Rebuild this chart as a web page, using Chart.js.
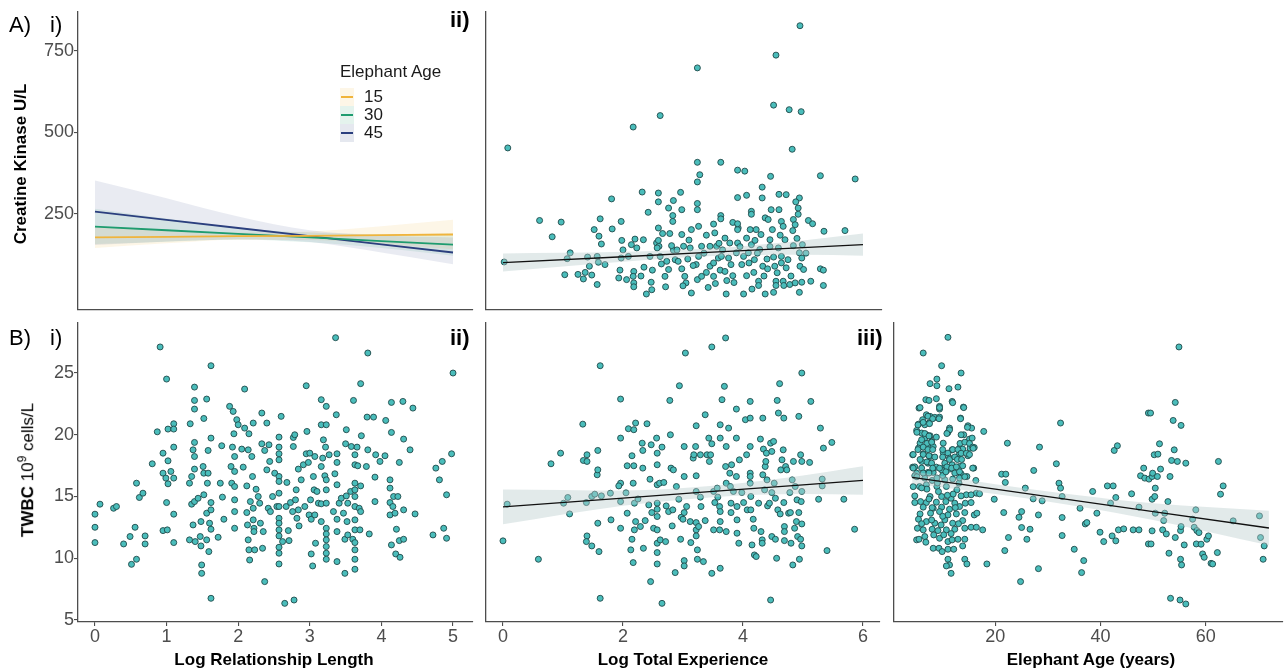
<!DOCTYPE html>
<html>
<head>
<meta charset="utf-8">
<script src="https://cdn.jsdelivr.net/npm/chart.js@4.4.1/dist/chart.umd.min.js"></script>
<style>
body { margin: 0; background: #fff; }
#fig { position: relative; width: 1287px; height: 672px; overflow: hidden; font-family: "Liberation Sans", Arial, sans-serif; }
canvas { position: absolute; }
.lab { position: absolute; white-space: nowrap; color: #000; line-height: 24px; }
.tag { font-size: 22px; }
.tagb { font-size: 22px; font-weight: bold; }
.xt { font-size: 17px; font-weight: bold; transform: translateX(-50%); }
.yt { font-size: 17px; transform: translate(-50%, -50%) rotate(-90deg); }
.leg { position: absolute; font-size: 17px; line-height: 20px; color: #1a1a1a; }
.key { position: absolute; width: 14px; height: 18px; }
.key i { position: absolute; left: 1px; right: 1px; top: 8px; height: 2px; }
</style>
</head>
<body>
<div id="fig">
  <canvas id="ckRel"></canvas>
  <canvas id="ckExp"></canvas>
  <canvas id="wbcRel"></canvas>
  <canvas id="wbcExp"></canvas>
  <canvas id="wbcAge"></canvas>

  <div class="lab tag" style="left:9px;top:13px;">A)</div>
  <div class="lab tag" style="left:50px;top:13px;">i)</div>
  <div class="lab tagb" style="left:450px;top:8px;">ii)</div>
  <div class="lab tag" style="left:9px;top:326px;">B)</div>
  <div class="lab tag" style="left:50px;top:326px;">i)</div>
  <div class="lab tagb" style="left:450px;top:326px;">ii)</div>
  <div class="lab tagb" style="left:857px;top:326px;">iii)</div>

  <div class="lab yt" style="left:21px;top:164px;"><b>Creatine Kinase U/L</b></div>
  <div class="lab yt" style="left:25px;top:470px;"><b>TWBC</b> 10<sup style="font-size:12px;">9</sup> cells/L</div>
  <div class="lab xt" style="left:274px;top:648px;">Log Relationship Length</div>
  <div class="lab xt" style="left:683px;top:648px;">Log Total Experience</div>
  <div class="lab xt" style="left:1091px;top:648px;">Elephant Age (years)</div>

  <div class="leg" style="left:340px;top:62px;">Elephant Age</div>
  <div class="key" style="left:340px;top:88px;background:rgba(240,180,60,0.12);"><i style="background:#f0b43c;"></i></div>
  <div class="key" style="left:340px;top:106px;background:rgba(30,156,111,0.12);"><i style="background:#1e9c6f;"></i></div>
  <div class="key" style="left:340px;top:124px;background:rgba(43,63,126,0.12);"><i style="background:#2b3f7e;"></i></div>
  <div class="leg" style="left:364px;top:87px;">15</div>
  <div class="leg" style="left:364px;top:105px;">30</div>
  <div class="leg" style="left:364px;top:123px;">45</div>
</div>
<script>
// tick labels
const relLenTicks = [0, 1, 2, 3, 4, 5];
const expTicks = [0, 2, 4, 6];
const ageTicks = [20, 40, 60];
const ckTicks = [250, 500, 750];
const wbcTicks = [5, 10, 15, 20, 25];

// A i) predicted creatine kinase by relationship length for three ages
const ageLevels = ["15", "30", "45"];
const predRelLen = [0, 1, 2, 3, 4, 5];
const ckAge15 = [178, 180, 182, 183, 185, 187];
const ckAge15Lo = [146, 160, 171, 170, 158, 142];
const ckAge15Hi = [210, 200, 193, 196, 212, 232];
const ckAge30 = [211, 200, 189, 178, 167, 156];
const ckAge30Lo = [158, 165, 172, 163, 146, 122];
const ckAge30Hi = [266, 236, 207, 193, 188, 190];
const ckAge45 = [257, 232, 207, 182, 157, 132];
const ckAge45Lo = [155, 166, 172, 164, 132, 96];
const ckAge45Hi = [352, 298, 242, 200, 184, 178];

// A ii) creatine kinase vs log total experience
const ckExpPts = [
  [4.95,826],[4.55,736],[3.24,697],[4.51,583],[4.77,569],[4.97,563],[2.62,551],[2.17,516],[4.82,448],[0.08,452],
  [3.24,408],[3.63,408],[3.28,370],[3.24,348],[3.91,384],[4.03,381],[4.46,365],[5.29,367],[5.87,357],[4.32,332],
  [2.32,317],[2.59,314],[2.96,316],[1.81,296],[2.59,287],[2.84,291],[2.76,268],[2.98,263],[3.24,282],[3.24,263],
  [3.91,300],[4.06,307],[4.32,299],[4.60,310],[4.72,309],[4.94,299],[4.88,287],[4.92,268],[4.14,258],[4.47,263],
  [4.60,263],[0.61,230],[0.97,225],[0.82,180],[1.62,235],[1.97,227],[1.52,202],[1.82,204],[2.83,245],[2.83,227],
  [2.59,207],[2.42,255],[3.63,245],[3.63,235],[3.83,224],[3.92,207],[4.14,249],[4.37,238],[4.42,233],[4.64,227],
  [4.84,233],[4.92,249],[5.09,230],[5.16,220],[5.35,197],[5.70,199],[4.83,199],[4.87,217],[4.67,212],[4.49,202],
  [4.22,202],[4.30,187],[3.91,202],[3.91,220],[4.12,202],[3.51,219],[3.39,185],[3.53,192],[3.70,176],[3.26,212],
  [3.14,202],[2.98,187],[2.78,190],[2.20,173],[1.98,169],[1.60,182],[1.64,158],
  [1.12,131],[1.07,113],[1.03,64],[1.34,51],[1.41,118],[1.37,71],[1.48,63],[1.44,90],[1.57,34],[1.59,102],
  [1.57,120],[1.97,115],[1.95,78],[1.93,54],[2.06,49],[2.09,120],[2.14,156],[2.18,74],[2.17,59],[2.18,39],
  [2.18,27],[2.35,87],[2.39,5],[2.47,41],[2.48,18],[2.49,78],[2.56,161],[2.60,151],[2.62,120],[2.64,97],
  [2.70,59],[2.71,27],[2.76,80],[2.84,139],[2.87,110],[2.98,82],[3.03,59],[3.05,39],[3.14,8],[3.22,95],
  [3.24,49],[3.26,120],[3.31,59],[3.39,71],[3.45,90],[3.51,59],[3.54,37],[3.59,115],[3.62,78],[3.70,74],
  [3.73,46],[3.72,5],[3.83,61],[3.89,131],[3.98,95],[4.01,5],[4.06,61],[4.18,71],[4.19,110],[4.26,44],
  [4.26,31],[4.33,90],[4.37,5],[4.40,112],[4.41,82],[4.51,10],[4.53,90],[4.55,44],[4.55,31],[4.64,100],
  [4.67,44],[4.68,31],[4.72,85],[4.78,34],[4.87,39],[4.94,10],[4.95,90],[4.98,41],[4.98,115],[5.01,80],
  [5.13,44],[5.29,82],[5.34,78],[5.34,31],[0.02,103],
  [2.23,146],[2.34,171],[2.59,169],[2.57,146],[2.81,153],[3.01,151],[3.12,146],[3.31,151],[3.45,151],[3.56,151],
  [3.78,161],[3.91,161],[4.06,176],[4.14,156],[4.20,169],[4.28,141],[4.45,171],[4.59,146],[4.70,171],[4.84,153],
  [4.99,156],[4.94,131],[4.51,118],[4.64,120],[2.73,105],[2.92,105],[3.08,112],[3.17,92],[3.51,100],[3.64,120],
  [3.76,115],[4.01,120],[4.09,131],[1.25,65],[1.70,95],[2.00,140],[2.30,60],[2.45,120],[2.66,190],[2.90,140],
  [3.00,30],[3.10,170],[3.35,130],[3.42,25],[3.60,160],[3.66,140],[3.80,95],[3.85,40],[3.95,150],[4.10,100],
  [4.15,20],[4.24,130],[4.35,60],[4.45,150],[4.57,70],[4.62,185],[4.75,110],[4.80,60],[4.90,175],[5.05,130]
];
const ckExpFitX = [0, 2, 3.5, 5, 6];
const ckExpFit = [101, 119, 133, 147, 156];
const ckExpLo = [74, 104, 121, 125, 122];
const ckExpHi = [129, 134, 145, 169, 190];

// B i) TWBC vs log relationship length
const wbcRelPts = [
  [0,13.57],[0,12.51],[0,11.27],[0.07,14.38],[0.26,14.05],[0.30,14.19],[0.40,11.16],[0.49,11.76],[0.51,9.51],[0.56,12.51],
  [0.58,16.08],[0.58,9.92],[0.62,14.92],[0.67,15.27],[0.70,11.81],[0.70,11.16],[0.80,17.65],[0.87,20.24],[0.91,27.11],[0.95,18.51],
  [0.95,16.89],[0.95,12.24],[0.99,16.49],[1.00,24.51],[1.00,14.51],[1.01,12.30],[1.02,17.89],[1.02,20.46],[1.02,16.03],[1.06,17.03],
  [1.10,20.89],[1.10,20.46],[1.10,19.00],[1.10,16.49],[1.10,13.57],[1.10,11.27],[1.33,20.89],[1.32,16.08],[1.32,11.49],[1.35,16.62],
  [1.35,14.38],[1.37,18.78],[1.39,23.86],[1.39,22.78],[1.39,22.08],[1.39,19.38],[1.39,18.24],[1.39,17.22],[1.39,14.59],[1.37,12.70],
  [1.40,11.35],[1.44,14.86],[1.47,11.76],[1.48,12.97],[1.49,9.46],[1.49,8.78],[1.48,11.00],[1.51,17.43],[1.52,21.32],[1.52,16.89],
  [1.52,15.14],[1.56,22.89],[1.56,11.49],[1.56,13.65],[1.57,16.08],[1.58,18.73],[1.58,16.89],[1.59,10.54],[1.60,12.84],[1.62,25.59],
  [1.62,19.73],[1.62,14.51],[1.62,13.92],[1.62,12.35],[1.62,6.76],[1.72,11.70],[1.75,16.08],[1.77,19.11],[1.78,14.95],[1.80,13.16],
  [1.88,22.30],[1.90,17.43],[1.91,16.08],[1.92,19.00],[1.93,21.89],[1.94,20.08],[1.95,18.24],[1.95,17.03],[1.95,15.81],[1.95,14.73],
  [1.95,13.78],[1.95,12.43],[1.98,21.22],[2.00,20.81],[2.05,18.84],[2.07,17.38],[2.09,23.70],[2.09,20.54],[2.12,15.86],[2.12,13.70],
  [2.13,12.70],[2.14,18.78],[2.14,11.49],[2.15,20.08],[2.15,10.68],[2.16,9.86],[2.17,14.59],[2.19,18.24],[2.20,16.62],[2.21,20.95],
  [2.21,14.05],[2.21,13.11],[2.22,12.43],[2.22,12.16],[2.23,10.68],[2.25,15.59],[2.28,15.00],[2.30,14.46],[2.31,12.84],[2.33,21.76],
  [2.33,19.27],[2.34,10.81],[2.35,12.16],[2.37,18.73],[2.37,8.11],[2.40,20.95],[2.40,17.16],[2.42,14.05],[2.43,19.19],[2.44,17.84],
  [2.45,13.78],[2.48,15.00],[2.51,16.89],[2.54,14.19],[2.57,19.81],[2.57,19.00],[2.57,18.46],[2.57,17.97],[2.57,16.62],[2.57,16.22],
  [2.57,15.27],[2.57,14.19],[2.57,13.24],[2.57,12.84],[2.57,12.30],[2.57,11.81],[2.57,10.89],[2.57,10.41],[2.57,9.54],[2.60,21.49],
  [2.62,11.35],[2.65,6.35],[2.67,14.19],[2.68,16.14],[2.70,12.24],[2.71,11.43],[2.73,14.51],[2.76,13.78],[2.77,19.78],[2.77,19.05],
  [2.78,6.62],[2.79,20.00],[2.80,14.73],[2.81,15.54],[2.82,13.24],[2.84,17.22],[2.84,13.92],[2.85,12.62],[2.88,16.35],[2.91,17.57],
  [2.93,14.19],[2.95,23.97],[2.95,18.46],[2.96,20.27],[2.98,17.76],[2.99,13.51],[3.00,18.51],[3.01,14.73],[3.02,13.16],[3.02,10.35],
  [3.04,9.38],[3.05,16.62],[3.06,15.54],[3.07,18.24],[3.07,13.51],[3.08,11.22],[3.10,15.41],[3.12,14.46],[3.16,22.84],[3.16,17.43],
  [3.16,14.41],[3.16,12.97],[3.16,20.81],[3.18,18.11],[3.19,19.59],[3.21,16.68],[3.22,19.00],[3.23,22.30],[3.23,20.81],[3.23,16.35],
  [3.23,15.54],[3.23,14.46],[3.23,12.43],[3.23,11.97],[3.23,11.49],[3.23,10.95],[3.23,10.41],[3.23,9.92],[3.27,18.38],[3.33,13.78],
  [3.35,16.84],[3.36,27.86],[3.37,21.62],[3.38,18.46],[3.38,15.95],[3.38,13.16],[3.38,12.16],[3.38,9.73],[3.38,17.76],[3.41,14.46],
  [3.44,14.86],[3.47,13.65],[3.49,11.54],[3.49,8.78],[3.50,19.27],[3.51,15.05],[3.51,20.41],[3.52,12.97],[3.53,11.89],[3.53,14.46],
  [3.57,15.41],[3.58,19.05],[3.60,11.54],[3.61,22.78],[3.63,18.38],[3.63,17.57],[3.63,16.08],[3.63,15.54],[3.63,15.00],[3.63,14.19],
  [3.63,13.11],[3.63,12.30],[3.63,11.27],[3.63,10.68],[3.63,9.92],[3.63,9.11],[3.66,19.00],[3.67,17.49],[3.69,14.05],[3.70,12.30],
  [3.71,13.78],[3.71,15.86],[3.71,24.14],[3.72,19.92],[3.79,17.43],[3.80,21.43],[3.81,26.62],[3.81,18.78],[3.83,11.97],[3.89,21.43],
  [3.91,16.57],[3.91,14.59],[3.92,18.38],[3.98,17.84],[4.05,18.30],[4.06,21.16],[4.12,16.35],[4.12,15.68],[4.12,14.51],[4.12,13.51],
  [4.14,22.62],[4.14,20.19],[4.14,11.08],[4.16,14.19],[4.17,15.00],[4.19,13.65],[4.20,10.35],[4.21,12.35],[4.23,15.00],[4.25,17.76],
  [4.25,11.43],[4.26,10.08],[4.30,22.70],[4.31,19.65],[4.31,13.92],[4.31,11.54],[4.40,18.78],[4.44,22.16],[4.47,13.59],[4.72,11.89],
  [4.76,17.30],[4.81,16.35],[4.85,17.84],[4.87,12.43],[4.91,11.62],[4.91,15.14],[4.98,18.46],[5.00,25.00]
];

// B ii) TWBC vs log total experience
const wbcExpPts = [
  [0,11.41],[0.07,14.38],[0.59,9.92],[0.80,17.65],[0.96,18.51],[1.01,14.46],[1.08,14.92],[1.11,13.59],[1.33,20.86],[1.34,17.92],
  [1.40,17.84],[1.40,18.38],[1.39,14.51],[1.40,11.81],[1.39,11.35],[1.48,11.00],[1.48,15.00],[1.53,15.19],[1.57,16.76],[1.58,17.16],
  [1.58,18.73],[1.58,12.84],[1.60,10.54],[1.62,25.59],[1.62,6.76],[1.79,15.27],[1.80,13.11],[1.96,22.89],[1.96,19.73],[1.96,16.08],
  [1.93,15.86],[1.96,14.59],[1.96,12.43],[2.07,17.49],[2.07,13.65],[2.09,20.49],[2.15,18.30],[2.17,16.08],[2.18,20.41],[2.18,17.49],
  [2.19,14.46],[2.19,12.30],[2.21,20.95],[2.17,9.65],[2.13,10.68],[2.15,11.54],[2.21,12.97],[2.29,12.57],[2.32,19.32],[2.33,18.73],
  [2.33,17.30],[2.34,10.81],[2.37,13.05],[2.40,20.89],[2.43,14.32],[2.46,8.11],[2.47,19.19],[2.48,13.70],[2.51,12.43],[2.56,19.73],
  [2.57,18.51],[2.57,17.57],[2.57,15.95],[2.57,14.46],[2.57,13.97],[2.57,13.38],[2.57,12.30],[2.57,11.22],[2.57,10.46],[2.57,9.54],
  [2.61,16.08],[2.62,11.49],[2.65,6.35],[2.65,19.00],[2.68,16.14],[2.71,11.35],[2.72,14.24],[2.76,13.78],[2.78,22.78],[2.79,20.00],
  [2.80,17.30],[2.82,12.62],[2.83,13.92],[2.84,17.16],[2.87,8.84],[2.89,15.81],[2.93,14.78],[2.94,23.97],[2.96,11.54],[2.97,13.32],
  [3.00,13.16],[3.02,19.05],[3.02,16.62],[3.02,13.70],[3.02,9.81],[3.02,9.38],[3.04,26.62],[3.06,14.19],[3.12,12.97],[3.13,11.27],
  [3.17,18.11],[3.18,18.38],[3.21,19.05],[3.22,20.73],[3.22,16.68],[3.22,15.41],[3.22,12.89],[3.22,12.30],[3.22,11.81],[3.24,10.68],
  [3.24,9.92],[3.26,12.57],[3.29,18.38],[3.29,14.95],[3.30,14.19],[3.34,9.73],[3.37,13.05],[3.37,21.62],[3.40,18.38],[3.43,19.73],
  [3.44,17.84],[3.46,18.38],[3.48,27.11],[3.48,19.27],[3.48,8.78],[3.51,15.41],[3.51,12.30],[3.53,14.51],[3.57,15.68],[3.58,14.95],
  [3.61,14.19],[3.61,12.30],[3.62,19.73],[3.62,20.81],[3.62,13.78],[3.62,12.97],[3.62,9.19],[3.65,22.84],[3.69,23.92],[3.71,27.84],
  [3.71,17.43],[3.72,19.05],[3.72,16.08],[3.72,12.16],[3.76,20.54],[3.78,16.89],[3.79,15.81],[3.80,14.46],[3.80,13.70],[3.81,17.57],
  [3.84,15.41],[3.89,22.08],[3.89,19.73],[3.89,16.62],[3.90,14.19],[3.90,13.11],[3.90,12.03],[3.93,11.22],[3.94,17.97],[3.98,15.32],
  [4.01,14.51],[4.04,21.22],[4.06,18.38],[4.07,13.92],[4.12,21.35],[4.12,22.70],[4.12,19.05],[4.12,16.89],[4.12,16.62],[4.12,16.08],
  [4.13,15.00],[4.13,13.92],[4.15,11.08],[4.17,13.16],[4.18,12.43],[4.19,10.27],[4.22,10.14],[4.26,14.46],[4.29,19.65],[4.30,12.16],
  [4.32,11.49],[4.32,11.22],[4.33,21.35],[4.33,16.76],[4.34,18.84],[4.36,15.54],[4.37,17.43],[4.38,17.84],[4.39,18.51],[4.40,16.35],
  [4.41,14.24],[4.44,14.46],[4.46,19.32],[4.46,6.62],[4.48,18.65],[4.48,15.32],[4.48,11.76],[4.51,19.46],[4.52,16.08],[4.54,14.86],
  [4.54,11.54],[4.56,10.00],[4.57,22.78],[4.58,13.92],[4.59,21.76],[4.61,24.14],[4.62,13.59],[4.63,17.16],[4.65,17.97],[4.67,18.78],
  [4.68,21.35],[4.68,14.51],[4.69,12.57],[4.69,12.16],[4.69,11.43],[4.71,17.43],[4.73,17.16],[4.76,13.65],[4.78,15.32],[4.79,13.70],
  [4.80,11.22],[4.82,16.35],[4.83,9.46],[4.84,17.84],[4.86,12.43],[4.87,15.81],[4.89,12.97],[4.90,14.73],[4.91,11.76],[4.93,21.49],
  [4.93,13.70],[4.94,9.92],[4.96,18.38],[4.96,11.54],[4.97,14.59],[4.98,25.00],[4.98,17.84],[4.98,15.41],[4.98,12.78],[4.98,11.00],
  [5.11,17.76],[5.13,22.70],[5.26,14.78],[5.29,20.54],[5.32,16.41],[5.32,15.86],[5.34,18.92],[5.40,10.62],[5.48,19.38],[5.68,14.78],
  [5.86,12.35],[1.64,15.05],[2.05,15.30],[2.25,14.80],[2.45,16.40]
];
const wbcExpFitX = [0, 2, 3.5, 5, 6];
const wbcExpFit = [14.16, 14.87, 15.41, 15.95, 16.30];
const wbcExpLo = [12.75, 14.25, 14.95, 15.20, 15.15];
const wbcExpHi = [15.57, 15.49, 15.87, 16.70, 17.45];

// B iii) TWBC vs elephant age
const wbcAgePts = [
  [11.0,27.89],[6.3,26.62],[9.8,25.59],[13.5,25.00],[8.9,24.51],[7.6,24.14],[8.9,23.97],[11.2,23.73],[12.9,23.86],[11.8,22.70],
  [6.8,22.84],[7.4,22.78],[8.8,22.92],[5.5,22.16],[9.4,22.30],[9.4,22.08],[13.95,22.24],[6.9,21.62],[7.6,21.49],[8.5,21.41],
  [9.4,21.43],[6.2,21.22],[7.4,20.95],[5.4,20.86],[6.6,20.81],[13.4,21.35],[14.8,20.73],[15.5,20.54],[11.3,20.54],[11.0,20.19],
  [5.05,20.35],[6.0,20.14],[6.9,20.00],[6.6,19.73],[7.6,19.92],[8.8,19.81],[7.9,19.46],[5.7,19.32],[14.0,20.00],[15.1,19.65],
  [15.6,19.73],[17.8,20.27],[10.1,19.32],[7.2,19.11],[8.2,19.05],[13.2,18.92],[13.8,18.84],[15.2,18.92],[16.0,18.97],[11.8,18.78],
  [10.1,18.57],[11.0,18.51],[5.4,18.92],[6.3,18.46],[7.6,18.24],[4.3,18.38],[13.2,18.46],[14.8,18.30],[11.3,18.11],[6.0,17.84],
  [7.2,17.70],[8.8,17.38],[10.4,17.43],[11.8,17.57],[13.2,17.43],[13.8,17.49],[15.9,17.30],[4.3,17.38],[5.05,16.89],[7.2,16.95],
  [8.2,16.95],[9.8,17.16],[11.3,17.22],[13.5,16.84],[14.6,16.62],[4.7,16.68],[6.6,16.49],[8.0,16.30],[10.4,16.35],[11.9,16.41],
  [13.1,16.08],[16.3,16.30],[5.6,15.81],[6.9,15.95],[8.9,15.81],[10.7,15.81],[12.7,15.54],[14.5,15.14],[16.4,15.27],[15.4,15.14],
  [4.7,15.05],[7.6,15.00],[9.8,15.00],[11.6,14.86],[13.5,15.05],[4.7,14.51],[5.8,14.59],[6.9,14.51],[8.8,14.54],[10.6,14.59],
  [12.3,14.46],[14.3,14.46],[15.4,14.51],[6.3,14.14],[8.2,14.05],[9.8,14.14],[11.3,13.97],[13.2,14.19],[5.7,13.59],[7.7,13.65],
  [9.4,13.78],[11.0,13.51],[12.6,13.59],[14.2,13.70],[16.0,13.51],[16.5,13.65],[5.4,13.16],[6.9,12.97],[8.5,12.84],[10.4,13.11],
  [11.9,12.84],[13.8,13.05],[5.2,12.43],[6.3,12.30],[8.0,12.35],[9.1,12.24],[10.7,12.30],[12.3,12.35],[14.2,12.43],[15.4,12.51],
  [16.4,12.51],[17.6,12.30],[5.05,11.49],[5.5,11.54],[6.6,11.76],[8.3,11.89],[9.4,11.62],[11.0,11.35],[11.8,11.49],[12.9,11.54],
  [14.2,11.54],[8.2,10.81],[9.3,10.81],[9.9,10.54],[11.0,10.73],[12.1,10.73],[13.8,11.00],[11.0,9.92],[11.3,9.46],[10.7,9.38],
  [11.6,8.78],[14.2,9.92],[14.6,9.54],[17.0,15.22],[7.0,15.60],[9.0,16.10],[10.0,13.40],[12.0,15.20],[6.0,12.80],[8.0,14.10],
  [5.7,22.2],[9.4,22.2],[11.9,22.6],[14.0,22.2],[6.3,21.0],[7.2,21.5],[8.1,21.3],[9.3,21.3],[13.4,21.3],[5.3,20.8],
  [7.5,20.9],[5.1,20.2],[6.6,20.1],[7.4,19.9],[11.3,20.4],[10.8,20.1],[14.7,20.6],[6.0,19.6],[7.0,19.3],[7.9,19.4],
  [6.3,19.0],[7.2,18.8],[8.1,18.8],[13.5,20.0],[13.3,19.3],[14.2,19.4],[15.1,19.3],[15.7,19.0],[10.0,18.8],[11.9,18.8],
  [12.9,18.8],[13.5,18.5],[14.5,18.5],[15.8,18.9],[5.3,18.8],[4.4,18.4],[6.3,18.4],[7.4,18.3],[8.5,18.2],[5.7,18.0],
  [7.0,17.8],[7.9,17.7],[10.0,18.2],[10.4,17.7],[11.3,18.0],[12.3,18.2],[12.8,18.0],[13.6,18.0],[15.1,18.4],[4.7,17.4],
  [6.0,17.3],[8.1,17.3],[9.4,17.3],[10.8,17.4],[11.7,17.3],[12.6,17.4],[10.0,16.7],[10.6,17.0],[12.3,16.9],[13.2,17.0],
  [8.9,16.5],[13.2,16.5],[14.2,16.6],[15.7,17.3],[4.4,17.3],[5.1,16.6],[6.3,16.9],[4.4,15.8],[6.0,15.7],[7.4,16.9],
  [9.2,15.4],[10.9,15.1],[12.4,14.1],[7.9,13.1],[9.7,12.7],[11.6,12.0],[13.0,12.8],[6.8,11.3],[10.2,11.9],[7.4,14.8],
  [18.4,9.54],[19.8,14.78],[21.2,16.81],[22.0,16.81],[21.9,16.14],[21.6,13.70],[21.8,10.62],[22.3,19.32],[22.5,11.68],[24.5,13.32],
  [25.0,13.78],[25.0,12.49],[24.8,8.11],[25.7,15.68],[26.0,11.54],[26.6,12.35],[27.2,14.81],[27.3,17.11],[28.2,13.51],[28.2,9.16],
  [28.4,19.00],[28.9,14.65],[31.6,17.65],[32.1,16.08],[32.4,20.95],[32.4,15.68],[32.7,15.00],[32.7,13.30],[32.7,11.84],[35.0,10.73],
  [36.1,14.05],[36.4,8.84],[36.8,9.81],[37.1,12.78],[37.4,12.89],[38.5,15.41],[39.3,13.65],[39.9,12.11],[40.6,11.35],[41.3,15.86],
  [41.9,14.46],[42.2,11.81],[42.4,15.86],[42.6,18.73],[42.9,14.92],[42.9,11.41],[43.2,19.11],[43.4,12.30],[44.4,12.38],[45.9,15.22],
  [46.2,12.30],[47.3,14.14],[47.3,12.30],[47.6,16.68],[48.2,17.30],[48.4,16.49],[49.1,21.76],[49.5,21.76],[49.2,16.41],[49.8,16.62],
  [49.9,16.89],[49.8,14.78],[49.1,11.16],[49.6,11.16],[49.8,12.22],[50.2,18.38],[50.4,15.68],[50.3,15.00],[50.4,13.65],[50.8,16.62],
  [50.9,18.43],[51.2,19.27],[51.4,17.22],[51.8,12.30],[52.0,13.05],[52.2,13.65],[52.5,11.97],[52.8,14.59],[53.0,10.41],[53.2,16.62],
  [53.3,6.76],[53.5,17.92],[53.8,21.16],[54.0,18.78],[54.2,22.62],[54.2,11.68],[54.6,17.84],[54.9,27.11],[55.2,12.24],[55.2,9.92],
  [55.3,20.76],[55.3,12.57],[55.1,6.62],[55.4,9.46],[55.9,11.08],[56.2,17.70],[56.2,6.30],[57.5,13.16],[57.8,12.51],[58.1,13.92],
  [58.3,12.24],[58.7,12.08],[58.2,11.16],[59.1,11.14],[59.4,10.35],[59.7,10.08],[60.2,11.54],[60.5,11.81],[61.0,9.59],[61.3,9.54],
  [62.2,10.46],[62.4,17.84],[62.8,15.19],[63.3,15.86],[65.2,13.03],[70.2,13.43],[70.4,11.68],[70.9,9.92],[71.1,11.00]
];
const wbcAgeFitX = [4.2, 20, 35, 50, 72];
const wbcAgeFit = [16.55, 15.60, 14.69, 13.78, 12.45];
const wbcAgeLo = [16.05, 15.20, 14.25, 13.10, 11.05];
const wbcAgeHi = [17.05, 16.00, 15.15, 14.45, 13.85];

const FONT = '"Liberation Sans", Arial, sans-serif';
const AXIS_GREY = '#4d4d4d';

function axis(min, max, ticks, labelled) {
    return {
        type: 'linear',
        min: min,
        max: max,
        afterBuildTicks: s => { s.ticks = ticks.map(v => ({ value: v })); },
        grid: { display: labelled, drawOnChartArea: false, drawTicks: true, tickLength: 4, color: AXIS_GREY, lineWidth: 1.1 },
        border: { display: true, color: AXIS_GREY, width: 1.3 },
        ticks: { display: labelled, color: AXIS_GREY, font: { family: FONT, size: 18 }, padding: 0, maxRotation: 0, autoSkip: false }
    };
}

function points(pairs) {
    return {
        data: pairs.map(p => ({ x: p[0], y: p[1] })),
        showLine: false,
        pointRadius: 3,
        pointBackgroundColor: '#4abdbb',
        pointBorderColor: '#1f4a49',
        pointBorderWidth: 0.9,
        order: 3
    };
}

function band(xs, lo, hi, color) {
    const none = 'rgba(0,0,0,0)';
    return [
        { data: xs.map((x, i) => ({ x: x, y: hi[i] })), borderColor: none, borderWidth: 1, pointRadius: 0,
          fill: '+1', backgroundColor: color, cubicInterpolationMode: 'monotone', order: 2 },
        { data: xs.map((x, i) => ({ x: x, y: lo[i] })), borderColor: none, borderWidth: 1, pointRadius: 0,
          fill: false, cubicInterpolationMode: 'monotone', order: 2 }
    ];
}

function fitLine(xs, ys, color, width) {
    return { data: xs.map((x, i) => ({ x: x, y: ys[i] })), borderColor: color, borderWidth: width,
             pointRadius: 0, fill: false, order: 1 };
}

// area = [left, top, right, bottom] of the plot frame, pad = [left, top, right, bottom]
function makePanel(id, area, pad, xScale, yScale, datasets) {
    const cv = document.getElementById(id);
    cv.width = area[2] - area[0] + pad[0] + pad[2];
    cv.height = area[3] - area[1] + pad[1] + pad[3];
    cv.style.left = (area[0] - pad[0]) + 'px';
    cv.style.top = (area[1] - pad[1]) + 'px';
    xScale.afterFit = s => { s.height = pad[3]; s.paddingLeft = 0; s.paddingRight = 0; };
    yScale.afterFit = s => { s.width = pad[0]; s.paddingTop = 0; s.paddingBottom = 0; };
    return new Chart(cv, {
        type: 'line',
        data: { datasets: datasets },
        options: {
            responsive: false,
            animation: false,
            devicePixelRatio: 1,
            events: [],
            layout: { padding: { left: 0, top: pad[1], right: pad[2], bottom: 0 } },
            plugins: { legend: { display: false }, tooltip: { enabled: false } },
            scales: { x: xScale, y: yScale }
        }
    });
}

const ckRange = [-44, 868];
const wbcRange = [4.84, 29.05];

makePanel('ckRel', [78, 12, 473, 310], [70, 5, 5, 5],
    axis(-0.237, 5.279, [], false), axis(ckRange[0], ckRange[1], ckTicks, true),
    [
        ...band(predRelLen, ckAge45Lo, ckAge45Hi, 'rgba(43,63,126,0.10)'),
        ...band(predRelLen, ckAge30Lo, ckAge30Hi, 'rgba(30,156,111,0.10)'),
        ...band(predRelLen, ckAge15Lo, ckAge15Hi, 'rgba(240,180,60,0.12)'),
        fitLine(predRelLen, ckAge15, '#f0b43c', 1.8),
        fitLine(predRelLen, ckAge30, '#1e9c6f', 1.8),
        fitLine(predRelLen, ckAge45, '#2b3f7e', 1.8)
    ]);

makePanel('ckExp', [486, 12, 882, 310], [5, 5, 5, 5],
    axis(-0.283, 6.317, [], false), axis(ckRange[0], ckRange[1], [], false),
    [points(ckExpPts), ...band(ckExpFitX, ckExpLo, ckExpHi, 'rgba(185,205,205,0.42)'),
     fitLine(ckExpFitX, ckExpFit, '#111', 1.3)]);

makePanel('wbcRel', [78, 323, 473, 622], [70, 5, 5, 30],
    axis(-0.237, 5.279, relLenTicks, true), axis(wbcRange[0], wbcRange[1], wbcTicks, true),
    [points(wbcRelPts)]);

makePanel('wbcExp', [486, 323, 880, 622], [5, 5, 5, 30],
    axis(-0.283, 6.283, expTicks, true), axis(wbcRange[0], wbcRange[1], [], false),
    [points(wbcExpPts), ...band(wbcExpFitX, wbcExpLo, wbcExpHi, 'rgba(185,205,205,0.42)'),
     fitLine(wbcExpFitX, wbcExpFit, '#111', 1.3)]);

makePanel('wbcAge', [894, 323, 1285, 622], [5, 5, 2, 30],
    axis(0.75, 74.5, ageTicks, true), axis(wbcRange[0], wbcRange[1], [], false),
    [points(wbcAgePts), ...band(wbcAgeFitX, wbcAgeLo, wbcAgeHi, 'rgba(185,205,205,0.42)'),
     fitLine(wbcAgeFitX, wbcAgeFit, '#111', 1.3)]);
</script>
</body>
</html>
